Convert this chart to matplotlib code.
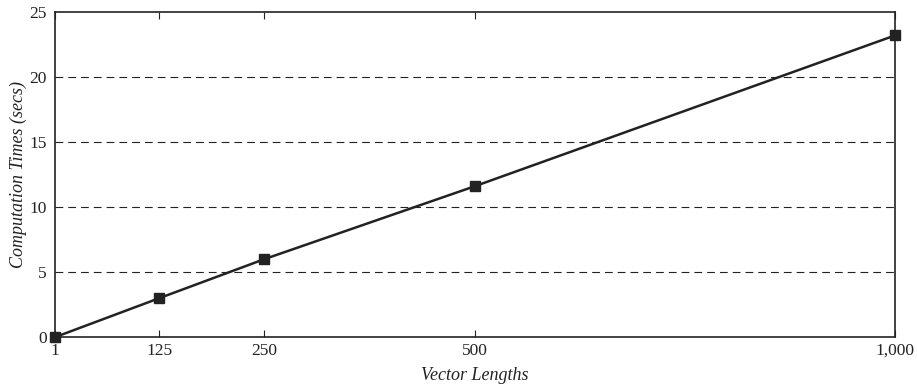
import matplotlib
matplotlib.use("Agg")
import matplotlib.pyplot as plt

vector_lengths = [1, 125, 250, 500, 1000]
times = [0.0, 3.0, 6.0, 11.6, 23.2]
x_tick_labels = ["1", "125", "250", "500", "1,000"]
y_ticks = [0, 5, 10, 15, 20, 25]

plt.rcParams['font.family'] = ['Liberation Serif', 'DejaVu Serif']

fig = plt.figure(figsize=(9.17, 3.88), dpi=100)
ax = fig.add_axes([0.060, 0.131, 0.916, 0.838])

for y in y_ticks[1:-1]:
    ax.axhline(y, color='#222222', lw=0.8, ls=(0, (7, 4.5)), zorder=1)

ax.plot(vector_lengths, times, color='#222222', lw=1.8, marker='s', markersize=6.5,
        markerfacecolor='#222222', markeredgecolor='#222222', zorder=3, clip_on=False)

ax.set_xlim(1, 1000)
ax.set_ylim(0, 25)
ax.set_xticks(vector_lengths)
ax.set_xticklabels(x_tick_labels)
ax.set_yticks(y_ticks)
ax.tick_params(axis='x', direction='in', top=True, length=5, width=0.8, labelsize=12.5, colors='#222222', pad=4)
ax.tick_params(axis='y', length=0, labelsize=12.5, colors='#222222', pad=6)
for s in ax.spines.values():
    s.set_color('#222222')
    s.set_linewidth(1.2)

ax.set_xlabel('Vector Lengths', fontstyle='italic', fontsize=13, color='#222222', labelpad=6)
ax.set_ylabel('Computation Times (secs)', fontstyle='italic', fontsize=13, color='#222222', labelpad=2)

fig.savefig('out.png', dpi=100)
